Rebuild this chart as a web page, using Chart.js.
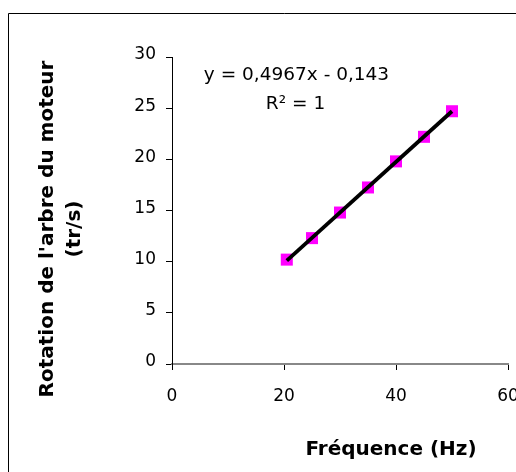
<!DOCTYPE html>
<html>
<head>
<meta charset="utf-8">
<script src="https://cdn.jsdelivr.net/npm/chart.js@4"></script>
<style>
  html, body { margin: 0; padding: 0; overflow: hidden; background: #fff; }
  #wrap { position: absolute; left: 0; top: 0; width: 560px; height: 500px; }
</style>
</head>
<body>
<div id="wrap"><canvas id="freqChart"></canvas></div>
<script>
// measured points (frequency -> shaft rotation)
const freq = [20.5, 25, 30, 35, 40, 45, 50];
const rotation = [10.2, 12.3, 14.8, 17.25, 19.8, 22.2, 24.7];

// linear trendline, ends
const trendFreq = [20.5, 50];
const trendRotation = [10.1, 24.7];

const xTicks = [0, 20, 40, 60];
const yTicks = [0, 5, 10, 15, 20, 25, 30];

const equation = ["y = 0,4967x - 0,143", "R² = 1"];
const xTitle = "Fréquence (Hz)";
const yTitle = ["Rotation de l'arbre du moteur", "(tr/s)"];

const FONT = "DejaVu Sans";

// frame, trendline label and axis titles
const chartText = {
    id: "chartText",
    beforeDraw(chart) {
        const ctx = chart.ctx;
        ctx.save();
        ctx.strokeStyle = "#000";
        ctx.lineWidth = 1;
        ctx.beginPath();
        ctx.moveTo(8.5, chart.height);
        ctx.lineTo(8.5, 13.5);
        ctx.lineTo(chart.width, 13.5);
        ctx.stroke();
        ctx.restore();
    },
    afterDraw(chart) {
        const ctx = chart.ctx;
        const a = chart.chartArea;
        ctx.save();
        ctx.fillStyle = "#000";
        ctx.textAlign = "center";
        ctx.textBaseline = "middle";

        ctx.font = "18.5px '" + FONT + "'";
        ctx.fillText(equation[0], a.left + 124.5, a.top + 18);
        ctx.fillText(equation[1], a.left + 123.5, a.top + 47);

        ctx.font = "bold 20px '" + FONT + "'";
        ctx.fillText(xTitle, a.left + 219, a.bottom + 86);

        ctx.translate(0, a.top + 172);
        ctx.rotate(-Math.PI / 2);
        ctx.fillText(yTitle[0], 0, 48);
        ctx.fillText(yTitle[1], 0, 75);
        ctx.restore();
    }
};

new Chart(document.getElementById("freqChart"), {
    type: "scatter",
    data: {
        datasets: [
            {
                label: "Linéaire",
                data: trendFreq.map((f, i) => ({ x: f, y: trendRotation[i] })),
                showLine: true,
                borderColor: "#000000",
                borderWidth: 3.8,
                pointRadius: 0
            },
            {
                label: "Rotation",
                data: freq.map((f, i) => ({ x: f, y: rotation[i] })),
                backgroundColor: "#ff00ff",
                borderColor: "#ff00ff",
                borderWidth: 0,
                pointStyle: "rect",
                pointRadius: 8.5
            }
        ]
    },
    options: {
        responsive: true,
        maintainAspectRatio: false,
        animation: false,
        layout: {
            padding: { left: 100, top: 57, right: 52, bottom: 96 }
        },
        plugins: {
            legend: { display: false },
            tooltip: { enabled: false }
        },
        scales: {
            x: {
                type: "linear",
                min: 0,
                max: 60,
                afterBuildTicks: s => { s.ticks = xTicks.map(v => ({ value: v })); },
                afterFit: s => { s.height = 40; },
                grid: { drawOnChartArea: false, tickLength: 6, color: "#000", tickColor: "#000" },
                border: { color: "#888888", width: 2 },
                ticks: {
                    color: "#000",
                    font: { family: FONT, size: 17 },
                    padding: 16,
                    maxRotation: 0
                }
            },
            y: {
                type: "linear",
                min: 0,
                max: 30,
                afterBuildTicks: s => { s.ticks = yTicks.map(v => ({ value: v })); },
                afterFit: s => { s.width = 72; },
                grid: { drawOnChartArea: false, tickLength: 6, color: "#000", tickColor: "#000" },
                border: { color: "#000", width: 1 },
                ticks: {
                    color: "#000",
                    font: { family: FONT, size: 17 },
                    padding: 10,
                    labelOffset: -2
                }
            }
        }
    },
    plugins: [chartText]
});
</script>
</body>
</html>
